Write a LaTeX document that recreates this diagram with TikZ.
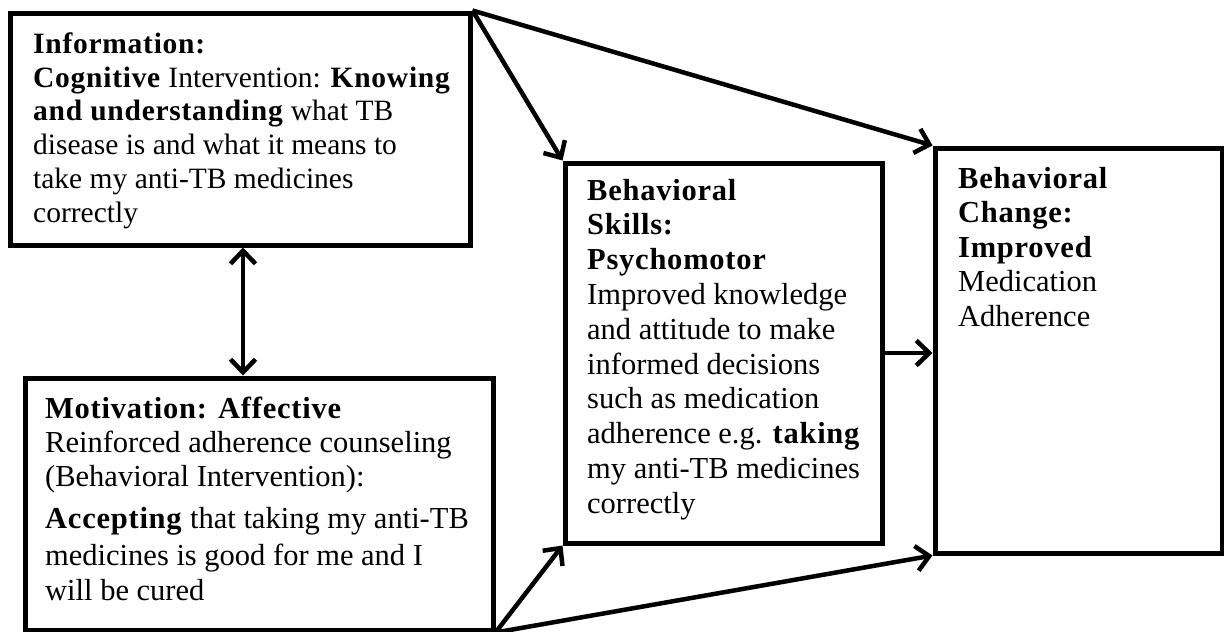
\documentclass[tikz,border=0pt]{standalone}
\usepackage{fontspec}
\setmainfont{Liberation Serif}[BoldFeatures={LetterSpace=2.5}]
\usetikzlibrary{arrows.meta}
\tikzset{
  boxnode/.style={draw, line width=5pt, rectangle, inner sep=0pt},
  txt/.style={anchor=north west, inner sep=0pt, align=left},
  tip/.tip={Straight Barb[length=13pt,width=25pt,line width=4.5pt]},
  conn/.style={line width=4.5pt, -tip},
  dconn/.style={line width=4.5pt, tip-tip}
}
\begin{document}
\begin{tikzpicture}[x=1pt,y=-1pt]
\useasboundingbox (0,0) rectangle (1224,632);
\fill[white] (0,0) rectangle (1224,632);
% boxes
\node[boxnode, minimum width=460pt, minimum height=232pt] (info) at (240,129) {};
\node[boxnode, minimum width=468pt, minimum height=252pt] (mot) at (259,504) {};
\node[boxnode, minimum width=317pt, minimum height=380pt] (skills) at (723.5,353) {};
\node[boxnode, minimum width=287pt, minimum height=405pt] (change) at (1078.5,350.5) {};
% texts
\node[txt, font=\fontsize{29.5}{33.8}\selectfont] (infotxt) at (33,29.5) {\strut\textbf{Information:}\\
\textbf{Cognitive} Intervention: \textbf{Knowing}\\
\textbf{and understanding} what TB\\
disease is and what it means to\\
take my anti-TB medicines\\
correctly};
\node[txt, font=\fontsize{30.5}{34}\selectfont] (mottxt) at (45,394.2) {\strut\textbf{Motivation: Affective}\\
Reinforced adherence counseling\\
(Behavioral Intervention):\\[8pt]
\textbf{Accepting} that taking my anti-TB\\[3pt]
medicines is good for me and I\\[1pt]
will be cured};
\node[txt, font=\fontsize{30.5}{34.8}\selectfont] (skilltxt) at (587,175.6) {\strut\textbf{Behavioral}\\
\textbf{Skills:}\\
\textbf{Psychomotor}\\
Improved knowledge\\
and attitude to make\\
informed decisions\\
such as medication\\
adherence e.g. \textbf{taking}\\
my anti-TB medicines\\
correctly};
\node[txt, font=\fontsize{30.5}{34.5}\selectfont] (changetxt) at (958,163.8) {\strut\textbf{Behavioral}\\
\textbf{Change:}\\
\textbf{Improved}\\
Medication\\
Adherence};
% connectors
\draw[dconn] ([xshift=3pt]info.south) -- ([xshift=3pt]info.south |- mot.north);
\draw[conn] (info.north east) -- (skills.north west);
\draw[conn] (info.north east) -- (change.north west);
\draw[conn] (skills.east) -- (skills.east -| change.west);
\draw[conn] (mot.south east) -- (skills.south west);
\draw[conn] (mot.south east) -- (change.south west);
\end{tikzpicture}
\end{document}
